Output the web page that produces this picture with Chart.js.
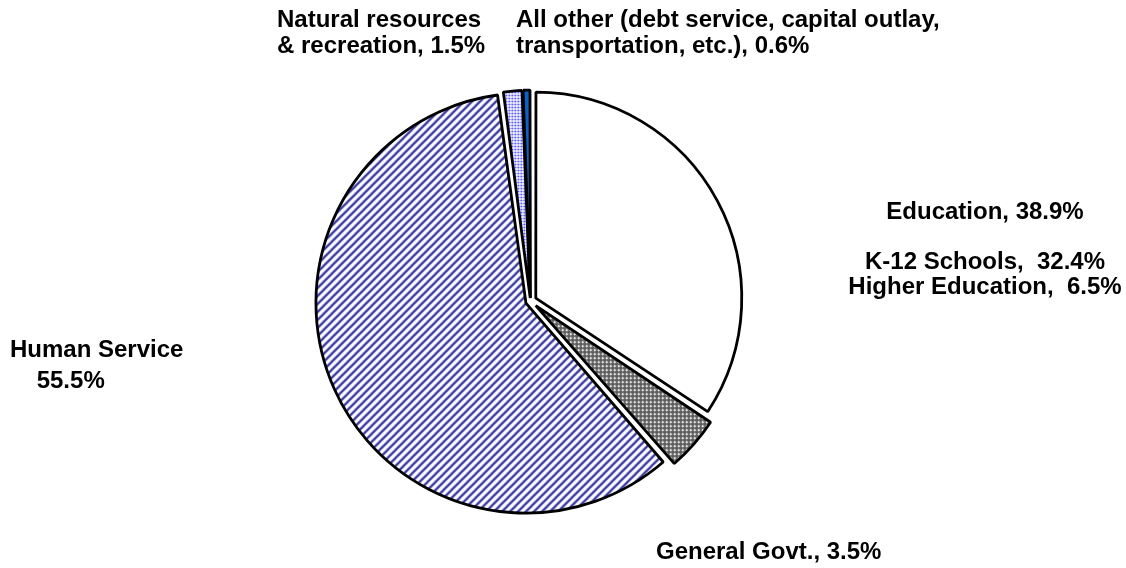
<!DOCTYPE html>
<html lang="en">
<head>
    <meta charset="UTF-8">
    <title>Spending by Function</title>
    <script src="https://cdn.jsdelivr.net/npm/chart.js"></script>
    <style>
        html, body { margin: 0; padding: 0; background: #fff; }
        #spendingChart { display: block; }
    </style>
</head>
<body>
    <canvas id="spendingChart" width="1126" height="568"></canvas>

    <script>
        // slices, clockwise from 12 o'clock
        const categories = ['Education', 'General Govt.', 'Human Service', 'Natural resources & recreation', 'All other'];
        // share of the circle as the slices are drawn in the picture
        const sliceShares = [34.3, 4.3, 59.3, 1.5, 0.6];

        // label texts, line by line
        const educationLines = ['Education, 38.9%', '', 'K-12 Schools,  32.4%', 'Higher Education,  6.5%'];
        const generalGovtLines = ['General Govt., 3.5%'];
        const humanServiceLines = ['Human Service', '    55.5%'];
        const naturalLines = ['Natural resources', '& recreation, 1.5%'];
        const allOtherLines = ['All other (debt service, capital outlay,', 'transportation, etc.), 0.6%'];

        function makeTile(size, draw) {
            const c = document.createElement('canvas');
            c.width = size;
            c.height = size;
            const g = c.getContext('2d');
            draw(g);
            return g.createPattern(c, 'repeat');
        }

        // diagonal navy stripes
        const stripes = makeTile(8, g => {
            g.fillStyle = '#ffffff';
            g.fillRect(0, 0, 8, 8);
            g.strokeStyle = '#3a3aa2';
            g.lineWidth = 2.3;
            [[-4, 4, 4, -4], [0, 8, 8, 0], [4, 12, 12, 4]].forEach(s => {
                g.beginPath();
                g.moveTo(s[0], s[1]);
                g.lineTo(s[2], s[3]);
                g.stroke();
            });
        });

        // grey cross-hatch
        const hatch = makeTile(4, g => {
            const rows = ['KWKG', 'WWWK', 'KWKG', 'GKGK'];
            const col = { K: '#202020', W: '#ffffff', G: '#9a9a9a' };
            rows.forEach((r, y) => r.split('').forEach((ch, x) => {
                g.fillStyle = col[ch];
                g.fillRect(x, y, 1, 1);
            }));
        });

        // light blue dots
        const dots = makeTile(3, g => {
            g.fillStyle = '#ececff';
            g.fillRect(0, 0, 3, 3);
            g.fillStyle = '#b0b0ff';
            g.fillRect(2, 0, 1, 3);
            g.fillRect(0, 2, 3, 1);
            g.fillStyle = '#3c3cff';
            g.fillRect(2, 2, 1, 1);
        });

        const labelPlugin = {
            id: 'sliceLabels',
            afterDraw(chart) {
                const ctx = chart.ctx;
                ctx.save();
                ctx.fillStyle = '#000';
                ctx.font = 'bold 24px "Liberation Sans", Arial, sans-serif';
                ctx.textBaseline = 'middle';
                const blocks = [
                    { lines: naturalLines, x: 277, y: 20, step: 26, align: 'left' },
                    { lines: allOtherLines, x: 516, y: 20, step: 26, align: 'left' },
                    { lines: educationLines, x: 985, y: 212, step: 25, align: 'center' },
                    { lines: humanServiceLines, x: 10, y: 350, step: 31, align: 'left' },
                    { lines: generalGovtLines, x: 656, y: 552, step: 26, align: 'left' }
                ];
                blocks.forEach(b => {
                    ctx.textAlign = b.align;
                    b.lines.forEach((t, i) => {
                        if (t) ctx.fillText(t, b.x, b.y + i * b.step);
                    });
                });
                ctx.restore();
            }
        };

        // arc offsets are divided by 4 inside Chart.js, hence the large numbers
        new Chart(document.getElementById('spendingChart').getContext('2d'), {
            type: 'pie',
            data: {
                labels: categories,
                datasets: [{
                    data: sliceShares,
                    backgroundColor: ['#ffffff', hatch, stripes, dots, '#0a64c8'],
                    borderColor: '#000000',
                    borderWidth: 2.8,
                    offset: [24, 28, 20, 12, 12]
                }]
            },
            options: {
                responsive: false,
                animation: false,
                radius: 205,
                layout: { padding: { left: 0, right: 65, top: 34, bottom: 0 } },
                plugins: {
                    legend: { display: false },
                    tooltip: { enabled: false }
                }
            },
            plugins: [labelPlugin]
        });
    </script>
</body>
</html>
